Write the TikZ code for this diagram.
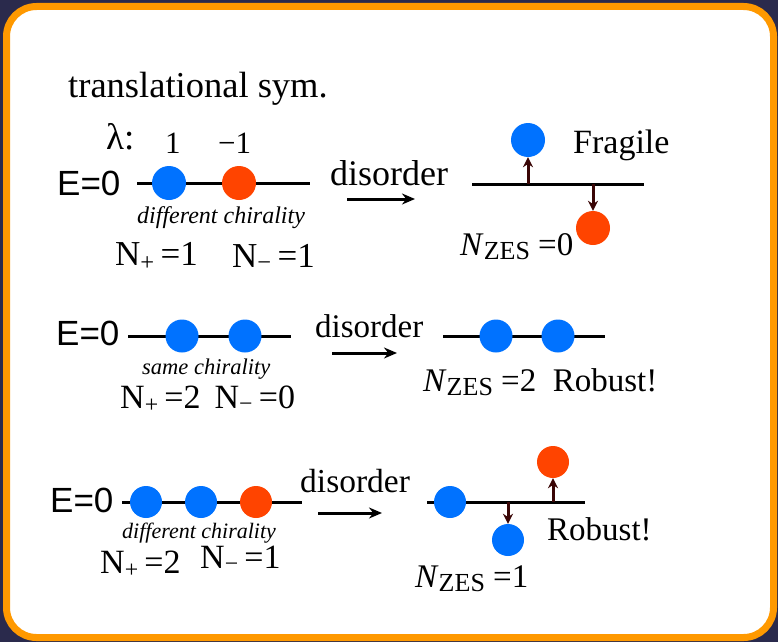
\documentclass[tikz,border=0pt]{standalone}
\usepackage{fontspec}
\setmainfont{Liberation Serif}
\newfontfamily\esans{Liberation Sans}
\usetikzlibrary{arrows.meta}
\definecolor{bgc}{HTML}{2A2A4C}
\definecolor{frame}{HTML}{FF9900}
\definecolor{dotblue}{HTML}{0072FF}
\definecolor{dotred}{HTML}{FF4400}
\definecolor{zarr}{HTML}{3A0606}
\newcommand{\fs}[1]{\fontsize{#1}{#1}\selectfont}
\begin{document}
\begin{tikzpicture}[x=1pt,y=-1pt,
  txt/.style={inner sep=0pt,anchor=base west},
  eline/.style={line width=3pt,black},
  bdot/.style={circle,fill=dotblue,inner sep=0pt,minimum size=33pt},
  rdot/.style={circle,fill=dotred,inner sep=0pt,minimum size=33pt},
  disarrow/.style={line width=3pt,-{Stealth[length=13pt,width=11pt]}},
  zarrow/.style={line width=3pt,zarr,-{Stealth[length=10pt,width=10pt]}},
  etext/.style={txt,font=\esans\fs{35}},
  ztext/.style={txt,font=\fs{33}}]
\fill[bgc] (0,0) rectangle (778,642);
\useasboundingbox (0,0) rectangle (778,642);
\draw[frame,line width=7pt,fill=white,rounded corners=30pt] (6.5,6.5) rectangle (773.5,637.5);

\node[txt,font=\fs{36.5}] (title) at (68,97) {translational sym.};

% ---------- row 1 ----------
\node[txt,font=\fs{37}] (lam) at (106,149) {λ:};
\node[txt,font=\fs{31}] (lp) at (165,153) {1};
\node[txt,font=\fs{31}] (lm) at (218,153) {−1};
\node[etext] (e1) at (57,195) {E=0};
\coordinate (a1s) at (137,183);
\coordinate (a1e) at (310,183);
\draw[eline] (a1s) -- (a1e);
\node[bdot,minimum size=34pt] (a1b) at (169,183) {};
\node[rdot,minimum size=34pt] (a1r) at (239,183) {};
\node[txt,font=\itshape\fs{24}] (ch1) at (137,223) {different chirality};
\node[txt,font=\fs{35}] (np1) at (115,265) {N\textsubscript{+}\,=1};
\node[txt,font=\fs{35}] (nm1) at (232,267) {N\textsubscript{−}\,=1};
\node[txt,font=\fs{36}] (d1) at (330,185) {disorder};
\coordinate (d1s) at (347,199);
\coordinate (d1e) at (415,199);
\draw[disarrow] (d1s) -- (d1e);
\coordinate (b1s) at (472,184);
\coordinate (b1e) at (644,184);
\draw[eline] (b1s) -- (b1e);
\node[bdot,minimum size=34pt] (b1b) at (528,140) {};
\node[rdot,minimum size=34pt] (b1r) at (593,228) {};
\coordinate (b1u) at (528,184);
\coordinate (b1d) at (593,184);
\draw[zarrow] (b1u) -- (b1b.south);
\draw[zarrow] (b1d) -- (b1r.north);
\node[txt,font=\fs{34}] (frag) at (573,153) {Fragile};
\node[ztext] (z1) at (460,255) {\textit{N}\raisebox{-0.15em}{\fs{26}ZES}\ =0};

% ---------- row 2 ----------
\node[etext] (e2) at (56,345) {E=0};
\coordinate (a2s) at (128,336);
\coordinate (a2e) at (291,336);
\draw[eline] (a2s) -- (a2e);
\node[bdot] (a2b1) at (182,336) {};
\node[bdot] (a2b2) at (245,336) {};
\node[txt,font=\itshape\fs{22.5}] (ch2) at (142,374) {same chirality};
\node[txt,font=\fs{34}] (n2) at (120,408) {N\textsubscript{+}\,=2\, N\textsubscript{−}\,=0};
\node[txt,font=\fs{33}] (d2) at (315,337) {disorder};
\coordinate (d2s) at (332,353);
\coordinate (d2e) at (397,353);
\draw[disarrow] (d2s) -- (d2e);
\coordinate (b2s) at (443,336);
\coordinate (b2e) at (605,336);
\draw[eline] (b2s) -- (b2e);
\node[bdot] (b2b1) at (496,336) {};
\node[bdot] (b2b2) at (558,336) {};
\node[ztext] (z2) at (423,391) {\textit{N}\raisebox{-0.15em}{\fs{26}ZES}\ =2\ \ Robust!};

% ---------- row 3 ----------
\node[etext] (e3) at (50,512) {E=0};
\coordinate (a3s) at (122,502);
\coordinate (a3e) at (302,502);
\draw[eline] (a3s) -- (a3e);
\node[bdot,minimum size=32pt] (a3b1) at (146,502) {};
\node[bdot,minimum size=32pt] (a3b2) at (201,502) {};
\node[rdot,minimum size=32pt] (a3r) at (256,502) {};
\node[txt,font=\itshape\fs{22}] (ch3) at (122,538) {different chirality};
\node[txt,font=\fs{34}] (np3) at (100,573) {N\textsubscript{+}\,=2};
\node[txt,font=\fs{34}] (nm3) at (200,568) {N\textsubscript{−}\,=1};
\node[txt,font=\fs{33.5}] (d3) at (300,492) {disorder};
\coordinate (d3s) at (318,513);
\coordinate (d3e) at (382,513);
\draw[disarrow] (d3s) -- (d3e);
\coordinate (b3s) at (427,502);
\coordinate (b3e) at (585,502);
\draw[eline] (b3s) -- (b3e);
\node[bdot,minimum size=32pt] (b3b1) at (450,502) {};
\node[bdot,minimum size=32pt] (b3b2) at (508,540) {};
\node[rdot,minimum size=32pt] (b3r) at (553,462) {};
\coordinate (b3d) at (508,502);
\coordinate (b3u) at (553,502);
\draw[zarrow] (b3d) -- (b3b2.north);
\draw[zarrow] (b3u) -- (b3r.south);
\node[txt,font=\fs{33}] (rob3) at (547,540) {Robust!};
\node[ztext] (z3) at (415,587) {\textit{N}\raisebox{-0.15em}{\fs{26}ZES}\ =1};
\end{tikzpicture}
\end{document}
